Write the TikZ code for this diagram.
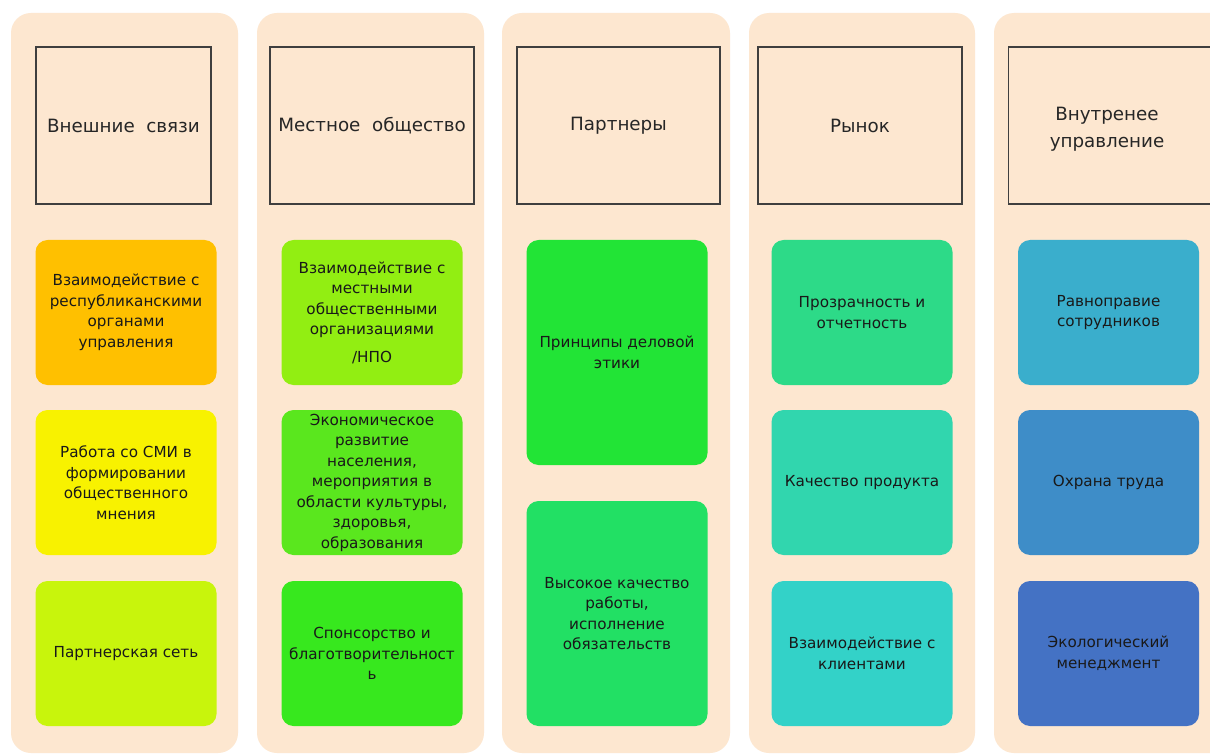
\documentclass[tikz,border=0pt]{standalone}
\usepackage{fontspec}
\setmainfont{DejaVu Sans}
\begin{document}
\begin{tikzpicture}[x=1pt,y=-1pt,
  colbg/.style={fill=peach,draw=none,rounded corners=20pt},
  head/.style={draw=headline,line width=1.3pt,fill=none,rectangle,minimum width=#1,minimum height=157pt,inner sep=0pt,align=center,font=\fontsize{18.3}{27}\selectfont,text=black!85},
  headtext/.style={inner sep=0pt,align=center,font=\fontsize{18.3}{27}\selectfont,text=black!85},
  item/.style={fill=#1,draw=none,rounded corners=12pt,rectangle,minimum width=181pt,inner sep=0pt,align=center,font=\fontsize{15.2}{20.5}\selectfont,text=black!90}
]
\definecolor{peach}{HTML}{FDE7D0}
\definecolor{headline}{HTML}{3F3F3F}
\definecolor{c11}{HTML}{FFC000}
\definecolor{c12}{HTML}{F8F200}
\definecolor{c13}{HTML}{C8F50C}
\definecolor{c21}{HTML}{92EE12}
\definecolor{c22}{HTML}{5AE71E}
\definecolor{c23}{HTML}{37E81E}
\definecolor{c31}{HTML}{22E436}
\definecolor{c32}{HTML}{22E064}
\definecolor{c41}{HTML}{2DDA88}
\definecolor{c42}{HTML}{31D6AE}
\definecolor{c43}{HTML}{33D2C8}
\definecolor{c51}{HTML}{3AAECC}
\definecolor{c52}{HTML}{3E8DC8}
\definecolor{c53}{HTML}{4472C4}
\useasboundingbox (0,0) rectangle (1210,754);
\clip (0,0) rectangle (1210,754);
\fill[white] (0,0) rectangle (1210,754);
% column backgrounds
\fill[colbg] (11,13) rectangle (238,753);
\fill[colbg] (257,13) rectangle (484,753);
\fill[colbg] (502,13) rectangle (730,753);
\fill[colbg] (749,13) rectangle (975,753);
\fill[colbg] (994,13) rectangle (1240,753);
% headers
\node[head=175pt] (h1) at (123.5,125.5) {Внешние\ \ связи};
\node[head=204pt] (h2) at (372,125.5) {Местное\ \ общество};
\node[head=203pt] (h3) at (618.5,125.5) {Партнеры};
\node[head=204pt] (h4) at (860,125.5) {Рынок};
\node[head=220pt,anchor=west] (h5) at (1008,125.5) {};
\node[headtext] (h5t) at (1107,129) {Внутренее\\управление};
% column 1
\node[item=c11,minimum height=145pt] (a1) at (126,312.5) {Взаимодействие с\\республиканскими\\органами\\управления};
\node[item=c12,minimum height=145pt] (a2) at (126,482.5) {Работа со СМИ в\\формировании\\общественного\\мнения};
\node[item=c13,minimum height=145pt] (a3) at (126,653.5) {Партнерская сеть};
% column 2
\node[item=c21,minimum height=145pt] (b1) at (372,312.5) {Взаимодействие с\\местными\\общественными\\организациями\\[7pt]/НПО};
\node[item=c22,minimum height=145pt] (b2) at (372,482.5) {Экономическое\\развитие\\населения,\\мероприятия в\\области культуры,\\здоровья,\\образования};
\node[item=c23,minimum height=145pt] (b3) at (372,653.5) {Спонсорство и\\благотворительност\\ь};
% column 3
\node[item=c31,minimum height=225pt] (c1) at (617,352.5) {Принципы деловой\\этики};
\node[item=c32,minimum height=225pt] (c2) at (617,613.5) {Высокое качество\\работы,\\исполнение\\обязательств};
% column 4
\node[item=c41,minimum height=145pt] (d1) at (862,312.5) {Прозрачность и\\отчетность};
\node[item=c42,minimum height=145pt] (d2) at (862,482.5) {Качество продукта};
\node[item=c43,minimum height=145pt] (d3) at (862,653.5) {Взаимодействие с\\клиентами};
% column 5
\node[item=c51,minimum height=145pt] (e1) at (1108.5,312.5) {Равноправие\\сотрудников};
\node[item=c52,minimum height=145pt] (e2) at (1108.5,482.5) {Охрана труда};
\node[item=c53,minimum height=145pt] (e3) at (1108.5,653.5) {Экологический\\менеджмент};
\end{tikzpicture}
\end{document}
